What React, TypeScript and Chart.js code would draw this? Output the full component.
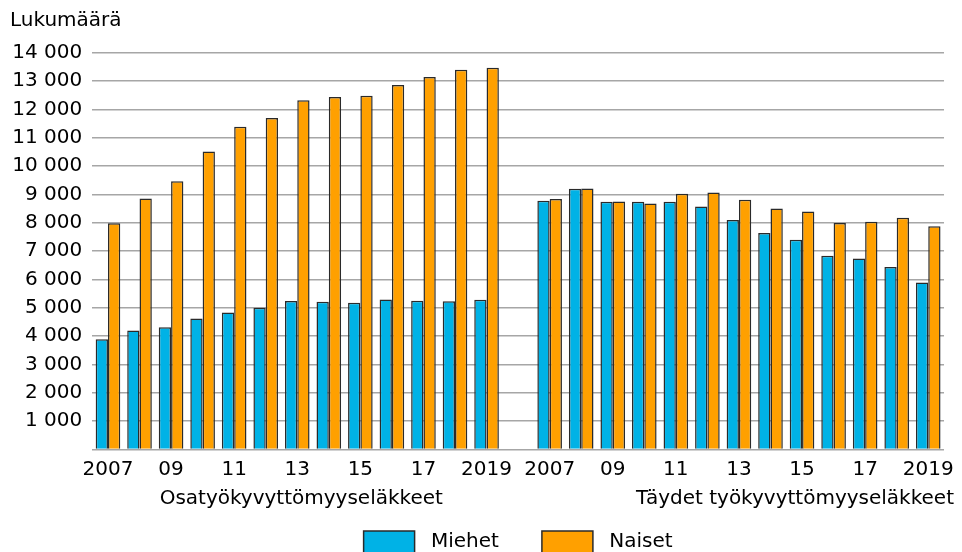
import React, { useEffect, useRef } from 'react';
import { Chart, registerables } from 'chart.js';

Chart.register(...registerables);

const FONT = '"DejaVu Sans", sans-serif';

// Tick labels for each group (every other one shown)
const years = ['2007', '08', '09', '10', '11', '12', '13', '14', '15', '16', '17', '18', '2019'];
const groupNames = ['Osatyökyvyttömyyseläkkeet', 'Täydet työkyvyttömyyseläkkeet'];
const seriesNames = ['Miehet', 'Naiset'];
const yAxisTitle = 'Lukumäärä';

// Osatyökyvyttömyyseläkkeet
const miehetOsa = [3890, 4195, 4315, 4620, 4830, 5005, 5240, 5210, 5175, 5290, 5245, 5230, 5280];
const naisetOsa = [7985, 8860, 9465, 10515, 11390, 11695, 12320, 12440, 12480, 12860, 13140, 13400, 13470];
// Täydet työkyvyttömyyseläkkeet
const miehetTay = [8775, 9200, 8740, 8740, 8740, 8575, 8095, 7635, 7400, 6835, 6740, 6435, 5890];
const naisetTay = [8835, 9210, 8750, 8680, 9020, 9070, 8810, 8505, 8400, 7990, 8035, 8175, 7880];

const labels = [...years, '', ...years];
const miehetData = [...miehetOsa, null, ...miehetTay];
const naisetData = [...naisetOsa, null, ...naisetTay];

const fmt = (v: number) => String(v).replace(/\B(?=(\d{3})+(?!\d))/g, ' ');

const groupLabelPlugin = {
  id: 'groupLabels',
  afterDraw(chart: any) {
    const { ctx, chartArea } = chart;
    const x = chart.scales.x;
    ctx.save();
    ctx.font = `20px ${FONT}`;
    ctx.fillStyle = '#000';
    ctx.textBaseline = 'middle';
    const y = chartArea.bottom + 49;
    ctx.textAlign = 'center';
    ctx.fillText(groupNames[0], x.getPixelForValue(6) + 4, y);
    ctx.textAlign = 'right';
    ctx.fillText(groupNames[1], chartArea.right + 10, y);
    ctx.restore();
  },
};

export default function App() {
  const ref = useRef<HTMLCanvasElement | null>(null);
  useEffect(() => {
    if (!ref.current) return;
    const chart = new Chart(ref.current, {
      type: 'bar',
      data: {
        labels,
        datasets: [
          {
            label: seriesNames[0],
            data: miehetData,
            backgroundColor: '#00B2E6',
            borderColor: '#2a2a2a',
            borderWidth: 1.5,
          },
          {
            label: seriesNames[1],
            data: naisetData,
            backgroundColor: '#FFA000',
            borderColor: '#2a2a2a',
            borderWidth: 1.5,
          },
        ],
      },
      options: {
        animation: false,
        responsive: true,
        maintainAspectRatio: false,
        layout: { padding: { left: 10, right: 17, top: 0, bottom: 0 } },
        datasets: {
          bar: { categoryPercentage: 0.78, barPercentage: 1.0 },
        },
        plugins: {
          tooltip: { enabled: false },
          title: {
            display: true,
            text: yAxisTitle,
            align: 'start',
            color: '#000',
            font: { family: FONT, size: 20, weight: 'normal' },
            padding: { top: 9, bottom: 19.7 },
          },
          legend: {
            position: 'bottom',
            fullSize: false,
            labels: {
              color: '#000',
              font: { family: FONT, size: 20 },
              boxWidth: 51,
              boxHeight: 22,
              padding: 43,
              generateLabels: (chart: any) =>
                Chart.defaults.plugins.legend.labels
                  .generateLabels(chart)
                  .map((l: any) => ({ ...l, text: ' ' + l.text })),
            },
          },
        },
        scales: {
          x: {
            grid: { display: false, drawTicks: false },
            border: { display: false },
            afterFit: (s: any) => {
              s.height = 38.5;
            },
            ticks: {
              autoSkip: false,
              maxRotation: 0,
              padding: 8,
              color: '#000',
              font: { family: FONT, size: 20 },
              callback: (_v: any, i: number) => {
                if (i < 13) return i % 2 === 0 ? labels[i] : '';
                if (i > 13) return (i - 14) % 2 === 0 ? labels[i] : '';
                return '';
              },
            },
          },
          y: {
            min: 0,
            max: 14000,
            afterFit: (s: any) => {
              s.width = 82.2;
            },
            grid: { color: '#A6A6A6', lineWidth: 1.5, drawTicks: false },
            border: { display: false },
            ticks: {
              stepSize: 1000,
              padding: 10,
              color: '#000',
              font: { family: FONT, size: 20 },
              callback: (v: any) => (v === 0 ? '' : fmt(Number(v))),
            },
          },
        },
      },
      plugins: [groupLabelPlugin],
    });
    return () => chart.destroy();
  }, []);

  return (
    <div style={{ position: 'absolute', left: 0, top: 0, width: 962, height: 552, overflow: 'hidden', background: '#fff' }}>
      <div style={{ position: 'relative', width: 962, height: 563 }}>
        <canvas ref={ref} />
      </div>
    </div>
  );
}
